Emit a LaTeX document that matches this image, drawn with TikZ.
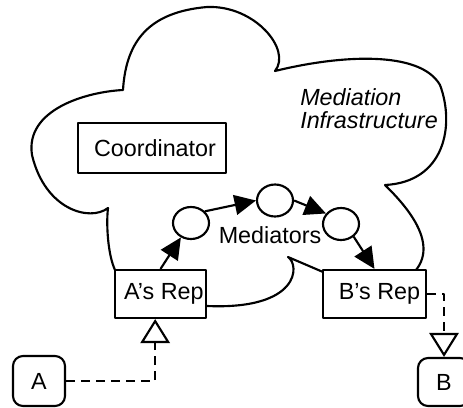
\documentclass[tikz,border=0pt]{standalone}
\usepackage{fontspec}
\setmainfont{Liberation Sans}
\usetikzlibrary{arrows.meta,shapes.geometric}
\tikzset{
  ln/.style={line width=1.6pt, line join=round},
  cloudline/.style={ln},
  boxnode/.style={ln, draw, fill=white, rectangle, inner sep=0pt,
    font=\fontsize{17.5pt}{17.5pt}\selectfont},
  endnode/.style={ln, draw, fill=white, rectangle, rounded corners=7.5pt,
    inner sep=0pt, minimum width=39pt, font=\fontsize{17.5pt}{17.5pt}\selectfont},
  mednode/.style={ln, draw, ellipse, inner sep=0pt, minimum width=27pt, minimum height=24pt},
  flow/.style={ln, -{Triangle[length=16pt,width=15pt]}},
  dflow/.style={ln, dash pattern=on 6.75pt off 4.5pt,
    -{Triangle[open,fill=white,length=18pt,width=22pt]}},
  lbl/.style={inner sep=0pt, font=\fontsize{17.5pt}{17.5pt}\selectfont}
}
\begin{document}
\begin{tikzpicture}[x=0.75pt,y=-0.75pt]
\useasboundingbox (0,0) rectangle (463,407);
% cloud outline
\draw[cloudline] (115,270) .. controls (108,255) and (106,225) .. (108,208)
  .. controls (90,222) and (45,210) .. (32,155)
  .. controls (25,110) and (85,92) .. (123,90)
  .. controls (126,40) and (150,12) .. (207,7)
  .. controls (255,5) and (292,50) .. (275,71)
  .. controls (340,55) and (420,50) .. (440,85)
  .. controls (455,125) and (445,182) .. (385,185)
  .. controls (400,200) and (440,240) .. (416,270);
\draw[cloudline] (323,272) -- (288,257) .. controls (300,265) and (300,310) .. (207,306);
% nodes
\node[boxnode, minimum width=111pt, minimum height=37.5pt] (coord) at (152,148) {\hspace*{4.5pt}Coordinator};
\node[boxnode, minimum width=68.25pt, minimum height=36pt] (Arep) at (160.5,294) {\hspace*{5pt}A’s Rep};
\node[boxnode, minimum width=77.25pt, minimum height=36pt] (Brep) at (374.5,294) {\hspace*{7.5pt}B’s Rep};
\node[mednode] (m1) at (191,223) {};
\node[mednode] (m2) at (275,200.5) {};
\node[mednode] (m3) at (341,224) {};
\node[lbl] (medlbl) at (270,235) {Mediators};
\node[lbl, anchor=base west, align=left, font=\fontsize{17.5pt}{17.25pt}\selectfont\itshape] (infra) at (300,128) {Mediation\\Infrastructure};
\node[endnode, minimum height=37.5pt] (A) at (39,381) {A};
\node[endnode, minimum height=36pt] (B) at (444,382) {B};
% connectors
\draw[flow] (Arep.north) -- (m1.-125);
\draw[flow] (m1.40) -- (m2.west);
\draw[flow] (m2.east) -- (m3.145);
\draw[flow] (m3.-45) -- (Brep.north);
\coordinate (ain) at ([xshift=-4pt]Arep.south);
\draw[dflow] (A.east) -| (ain);
\draw[dflow] (Brep.east) -| (B.north);
\end{tikzpicture}
\end{document}
